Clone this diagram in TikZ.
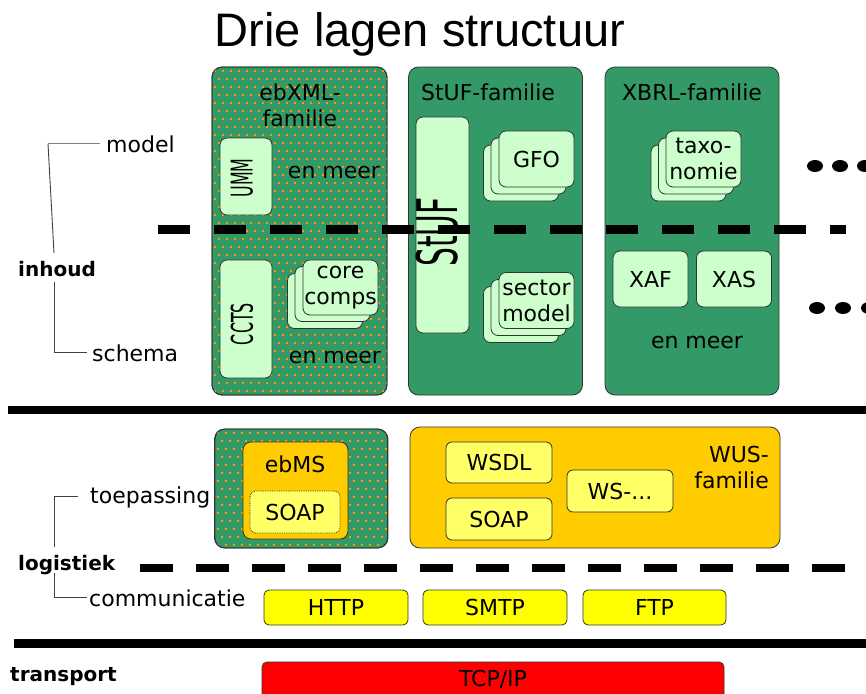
\documentclass[tikz,border=0pt]{standalone}
\usepackage{fontspec}
\setmainfont{DejaVu Sans}
\newfontfamily\titlefont{Liberation Sans}
\definecolor{famgreen}{HTML}{339966}
\definecolor{dotorange}{HTML}{FF9900}
\definecolor{lightgr}{HTML}{CCFFCC}
\definecolor{wusorange}{HTML}{FFCC00}
\definecolor{lightyel}{HTML}{FFFF66}
\definecolor{yel}{HTML}{FFFF00}
\definecolor{tcpred}{HTML}{FF0000}
\tikzset{
  lbl/.style={font=\fontsize{22}{26}\selectfont, inner sep=0pt, align=center},
  blbl/.style={font=\fontsize{20}{24}\selectfont\bfseries, inner sep=0pt},
  famcol/.style={draw=black!80, line width=0.8pt, rounded corners=10pt, fill=famgreen, inner sep=0pt},
  mbox/.style={draw=black!80, line width=0.8pt, rounded corners=7pt, fill=lightgr, inner sep=0pt,
               font=\fontsize{22}{26}\selectfont, align=center},
  obox/.style={draw=black!80, line width=0.8pt, rounded corners=8pt, fill=wusorange, inner sep=0pt},
  ybox/.style={draw=black!80, line width=0.8pt, rounded corners=6pt, fill=lightyel, inner sep=0pt,
               font=\fontsize{22}{26}\selectfont},
  pbox/.style={draw=black!80, line width=0.8pt, rounded corners=5pt, fill=yel, inner sep=0pt,
               font=\fontsize{22}{26}\selectfont},
  vtext/.style={rotate=90, inner sep=0pt},
  dashline/.style={line width=9pt, dash pattern=on 32pt off 24pt},
  brk/.style={black!75, line width=0.9pt},
}
\begin{document}
\begin{tikzpicture}[x=1pt,y=-1pt]
\clip (0,0) rectangle (866,693);
\fill[white] (0,0) rectangle (866,693);

% title
\node[font=\titlefont\fontsize{47}{50}\selectfont, anchor=base, inner sep=0pt] (title) at (420,47) {Drie lagen structuur};

% ===== inhoud: family columns =====
\node[famcol, minimum width=175pt, minimum height=328pt] (ebxml) at (299.5,231) {};
\begin{scope}
  \clip[rounded corners=10pt] (212,67) rectangle (387,395);
  \foreach \j in {0,...,41}{\foreach \i in {0,...,22}{
    \fill[dotorange] ({214+8*\i+4*mod(\j,2)},{70+8*\j}) rectangle ++(2.2,2.2);}}
\end{scope}
\draw[black!80, line width=0.8pt, rounded corners=10pt] (212,67) rectangle (387,395);

\node[famcol, minimum width=174pt, minimum height=328pt] (stuf) at (495.5,231) {};
\node[famcol, minimum width=174pt, minimum height=328pt] (xbrl) at (692,231) {};

\node[lbl] (ebxmlT) at (300,105) {ebXML-\\familie};
\node[lbl] (stufT) at (488,92) {StUF-familie};
\node[lbl] (xbrlT) at (692,92) {XBRL-familie};

% ebXML contents
\node[mbox, minimum width=52pt, minimum height=77pt] (umm) at (246,176.5) {};
\node[mbox, minimum width=52pt, minimum height=118pt] (ccts) at (246,319) {};
\node[mbox, minimum width=75pt, minimum height=55pt] (coreA) at (325,301) {};
\node[mbox, minimum width=75pt, minimum height=55pt] (coreB) at (332.5,294) {};
\node[mbox, minimum width=75pt, minimum height=55pt] (core) at (340.5,287.5) {core\\comps};
\node[lbl] (meer1) at (334,172) {en meer};
\node[lbl] (meer2) at (335,357) {en meer};

% StUF contents
\node[mbox, minimum width=53pt, minimum height=216pt] (stufbox) at (442.5,225) {};
\node[mbox, minimum width=75pt, minimum height=56pt] (gfoA) at (521,173) {};
\node[mbox, minimum width=75pt, minimum height=56pt] (gfoB) at (528.5,166) {};
\node[mbox, minimum width=75pt, minimum height=56pt] (gfo) at (536.5,159) {GFO};
\node[mbox, minimum width=75pt, minimum height=56pt] (secA) at (521,314.5) {};
\node[mbox, minimum width=75pt, minimum height=56pt] (secB) at (528.5,307.5) {};
\node[mbox, minimum width=75pt, minimum height=56pt] (sec) at (536.5,300.5) {sector\\model};

% XBRL contents
\node[mbox, minimum width=75pt, minimum height=56pt] (taxA) at (688.5,173) {};
\node[mbox, minimum width=75pt, minimum height=56pt] (taxB) at (696,166) {};
\node[mbox, minimum width=75pt, minimum height=56pt] (tax) at (703.5,159) {taxo-\\nomie};
\node[mbox, minimum width=75pt, minimum height=56pt] (xaf) at (650.5,279) {XAF};
\node[mbox, minimum width=75pt, minimum height=56pt] (xas) at (734,279) {XAS};
\node[lbl] (meer3) at (697,342) {en meer};

% ellipsis dots
\foreach \x in {815,840,865}{\fill (\x,166) ellipse (8pt and 6pt);}
\foreach \x in {817,843,869}{\fill (\x,308) ellipse (8pt and 6pt);}

% model/schema divider
\draw[dashline] (158,229) -- (846,229);

% rotated texts
\node[vtext, font=\fontsize{30}{30}\selectfont] (ummT) at (242,178) {\scalebox{0.53}[1]{UMM}};
\node[vtext, font=\fontsize{30}{30}\selectfont] (cctsT) at (242,324) {\scalebox{0.53}[1]{CCTS}};
\node[vtext, font=\fontsize{56}{56}\selectfont] (stufTxt) at (437,232) {\scalebox{0.53}[1]{StUF}};

% layer separator
\draw[line width=8pt] (8,410) -- (866,410);

% ===== logistiek =====
\node[famcol, minimum width=173pt, minimum height=119pt] (ebxml2) at (301,488.5) {};
\begin{scope}
  \clip[rounded corners=10pt] (215,429) rectangle (388,548);
  \foreach \j in {0,...,15}{\foreach \i in {0,...,22}{
    \fill[dotorange] ({217+8*\i+4*mod(\j,2)},{432+8*\j}) rectangle ++(2.2,2.2);}}
\end{scope}
\draw[black!80, line width=0.8pt, rounded corners=10pt] (215,429) rectangle (388,548);
\node[obox, minimum width=105pt, minimum height=97pt] (ebms) at (295.5,490.5) {};
\node[lbl] (ebmsT) at (295,464) {ebMS};
\node[ybox, minimum width=90pt, minimum height=42pt, densely dotted] (soap1) at (295,512) {SOAP};

\node[obox, minimum width=370pt, minimum height=121pt, rounded corners=10pt] (wus) at (595,487.5) {};
\node[ybox, minimum width=106pt, minimum height=41pt] (wsdl) at (499,462.5) {WSDL};
\node[ybox, minimum width=106pt, minimum height=42pt] (soap2) at (499,519) {SOAP};
\node[ybox, minimum width=106pt, minimum height=42pt] (wsx) at (620,491) {WS-...};
\node[lbl, align=right, anchor=east] (wusT) at (769,467) {WUS-\\familie};

\draw[line width=8pt, dash pattern=on 33pt off 23pt] (140,568) -- (845,568);

\node[pbox, minimum width=144pt, minimum height=35pt] (http) at (336,607.5) {HTTP};
\node[pbox, minimum width=144pt, minimum height=35pt] (smtp) at (495,607.5) {SMTP};
\node[pbox, minimum width=143pt, minimum height=35pt] (ftp) at (654.5,607.5) {FTP};

\draw[line width=9pt] (14,643) -- (866,643);

% ===== transport =====
\node[pbox, fill=tcpred, minimum width=462pt, minimum height=42pt] (tcp) at (493,683) {};
\node[lbl] (tcpT) at (493,679) {TCP/IP};

% ===== left labels =====
\node[lbl, anchor=base west] (model) at (106,152) {model};
\node[blbl, anchor=base west] (inhoud) at (18,276) {inhoud};
\node[lbl, anchor=base west] (schema) at (92,361) {schema};
\node[lbl, anchor=base west] (toep) at (90,503) {toepassing};
\node[blbl, anchor=base west] (logi) at (18,570) {logistiek};
\node[lbl, anchor=base west] (comm) at (89,606) {communicatie};
\node[blbl, anchor=base west] (transp) at (10,681) {transport};

\coordinate (inTop) at (54,253);
\coordinate (inBot) at (54,282);
\coordinate (lgTop) at (54,547);
\coordinate (lgBot) at (54,573);
\draw[brk, gray] ([xshift=-6pt]model.west) -- ([xshift=-6pt]model.west -| inTop);
\draw[brk] ([xshift=-6pt]model.west -| inTop) -- (inTop);
\draw[brk] (inBot) |- ([xshift=-5pt]schema.west);
\draw[brk] ([xshift=-12pt]toep.west) -| (lgTop);
\draw[brk] (lgBot) |- ([xshift=-2pt]comm.west);
\end{tikzpicture}
\end{document}
